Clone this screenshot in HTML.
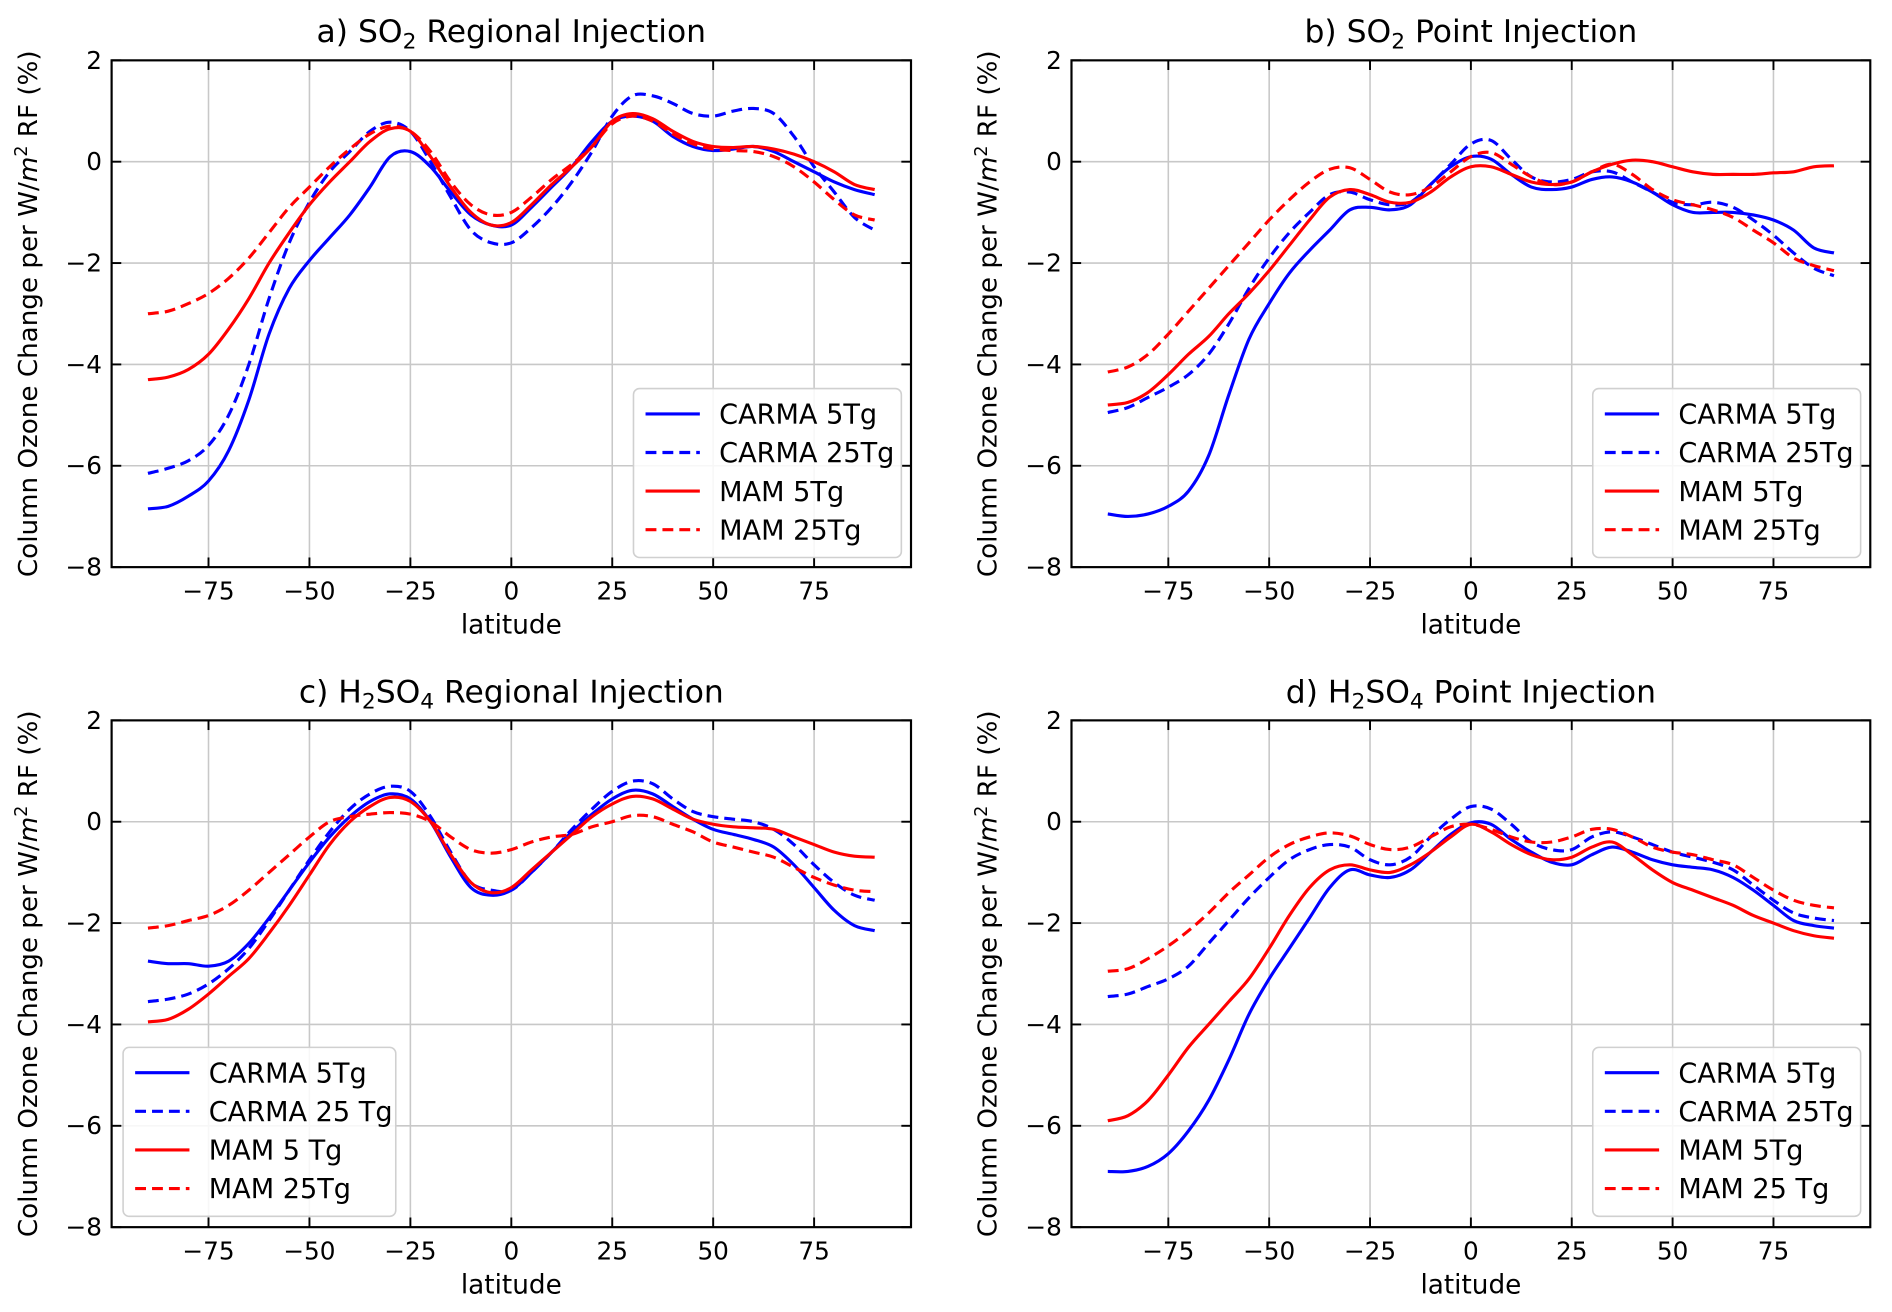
<!DOCTYPE html>
<html><head><meta charset="utf-8"><style>
html,body{margin:0;padding:0;background:#fff;}
svg{display:block;font-family:"DejaVu Sans","Liberation Sans",sans-serif;}
</style></head><body>
<svg id="fig" width="1892" height="1312" viewBox="0 0 1568 1087.3" xmlns="http://www.w3.org/2000/svg"></svg>
<script>
const lats = [-90,-85,-80,-75,-70,-65,-60,-55,-50,-45,-40,-35,-30,-25,-20,-15,-10,-5,0,5,10,15,20,25,30,35,40,45,50,55,60,65,70,75,80,85,90];
const xTicks = [-75,-50,-25,0,25,50,75];
const yTicks = [2,0,-2,-4,-6,-8];
const aCarma5 = [-6.85,-6.8,-6.6,-6.3,-5.7,-4.7,-3.4,-2.5,-1.95,-1.5,-1.05,-0.5,0.1,0.2,-0.1,-0.6,-1.05,-1.25,-1.25,-0.9,-0.5,-0.1,0.4,0.8,0.9,0.8,0.5,0.3,0.22,0.25,0.3,0.2,0.0,-0.2,-0.4,-0.55,-0.65];
const aCarma25 = [-6.15,-6.05,-5.9,-5.6,-5.0,-4.0,-2.7,-1.6,-0.8,-0.2,0.2,0.6,0.78,0.6,0.0,-0.7,-1.35,-1.6,-1.6,-1.3,-0.9,-0.4,0.2,0.9,1.3,1.3,1.15,0.95,0.9,1.0,1.05,0.95,0.5,-0.1,-0.6,-1.1,-1.35];
const aMam5 = [-4.3,-4.25,-4.1,-3.8,-3.3,-2.7,-2.0,-1.4,-0.85,-0.4,0.0,0.4,0.65,0.6,0.1,-0.5,-1.0,-1.25,-1.2,-0.85,-0.45,-0.1,0.3,0.8,0.95,0.85,0.6,0.4,0.3,0.28,0.3,0.25,0.15,0.0,-0.2,-0.45,-0.55];
const aMam25 = [-3.0,-2.95,-2.8,-2.6,-2.3,-1.9,-1.4,-0.9,-0.5,-0.1,0.25,0.55,0.7,0.6,0.2,-0.4,-0.85,-1.05,-1.0,-0.7,-0.35,-0.05,0.3,0.75,0.9,0.8,0.55,0.35,0.25,0.22,0.2,0.1,-0.1,-0.4,-0.75,-1.05,-1.15];
const bCarma5 = [-6.95,-7.0,-6.95,-6.8,-6.5,-5.8,-4.6,-3.5,-2.8,-2.2,-1.75,-1.35,-0.95,-0.9,-0.95,-0.85,-0.45,-0.1,0.1,0.05,-0.25,-0.5,-0.55,-0.5,-0.35,-0.3,-0.4,-0.6,-0.85,-1.0,-1.0,-1.0,-1.05,-1.15,-1.35,-1.7,-1.8];
const bCarma25 = [-4.95,-4.85,-4.65,-4.45,-4.2,-3.8,-3.2,-2.5,-1.9,-1.4,-1.0,-0.65,-0.6,-0.75,-0.85,-0.8,-0.45,-0.05,0.35,0.42,0.05,-0.3,-0.4,-0.35,-0.2,-0.2,-0.4,-0.6,-0.8,-0.85,-0.8,-0.9,-1.15,-1.45,-1.8,-2.1,-2.25];
const bMam5 = [-4.8,-4.75,-4.55,-4.2,-3.8,-3.45,-3.0,-2.6,-2.15,-1.65,-1.15,-0.7,-0.55,-0.65,-0.8,-0.8,-0.6,-0.3,-0.1,-0.1,-0.25,-0.4,-0.45,-0.4,-0.2,-0.05,0.03,0.0,-0.1,-0.2,-0.25,-0.25,-0.25,-0.22,-0.2,-0.1,-0.08];
const bMam25 = [-4.15,-4.05,-3.8,-3.4,-2.95,-2.5,-2.05,-1.6,-1.15,-0.75,-0.4,-0.15,-0.12,-0.35,-0.6,-0.65,-0.5,-0.2,0.1,0.18,-0.05,-0.3,-0.45,-0.4,-0.2,-0.05,-0.25,-0.55,-0.75,-0.85,-0.95,-1.1,-1.35,-1.6,-1.9,-2.05,-2.15];
const cCarma5 = [-2.75,-2.8,-2.8,-2.85,-2.75,-2.4,-1.9,-1.35,-0.8,-0.3,0.1,0.4,0.55,0.45,0.0,-0.7,-1.3,-1.45,-1.35,-1.0,-0.6,-0.2,0.15,0.45,0.62,0.55,0.3,0.05,-0.15,-0.25,-0.35,-0.5,-0.85,-1.3,-1.75,-2.05,-2.15];
const cCarma25 = [-3.55,-3.5,-3.4,-3.2,-2.9,-2.5,-1.95,-1.35,-0.75,-0.2,0.25,0.55,0.7,0.6,0.1,-0.6,-1.2,-1.35,-1.35,-1.0,-0.6,-0.15,0.25,0.6,0.8,0.75,0.45,0.2,0.1,0.05,0.0,-0.15,-0.45,-0.85,-1.2,-1.45,-1.55];
const cMam5 = [-3.95,-3.9,-3.7,-3.4,-3.05,-2.7,-2.2,-1.65,-1.05,-0.45,0.0,0.3,0.48,0.4,0.0,-0.65,-1.2,-1.4,-1.3,-0.95,-0.6,-0.25,0.1,0.35,0.5,0.45,0.25,0.05,-0.05,-0.1,-0.12,-0.15,-0.3,-0.45,-0.6,-0.68,-0.7];
const cMam25 = [-2.1,-2.05,-1.95,-1.85,-1.65,-1.35,-1.0,-0.65,-0.3,0.0,0.1,0.15,0.18,0.15,0.0,-0.3,-0.55,-0.62,-0.55,-0.4,-0.3,-0.25,-0.1,0.0,0.12,0.1,-0.05,-0.2,-0.4,-0.5,-0.6,-0.7,-0.9,-1.1,-1.25,-1.35,-1.38];
const dCarma5 = [-6.9,-6.9,-6.8,-6.55,-6.1,-5.5,-4.7,-3.8,-3.1,-2.5,-1.9,-1.3,-0.95,-1.05,-1.1,-0.95,-0.6,-0.25,-0.02,-0.05,-0.35,-0.6,-0.8,-0.85,-0.65,-0.5,-0.6,-0.75,-0.85,-0.9,-0.95,-1.1,-1.35,-1.65,-1.95,-2.05,-2.1];
const dCarma25 = [-3.45,-3.4,-3.25,-3.1,-2.85,-2.4,-1.95,-1.5,-1.1,-0.75,-0.55,-0.45,-0.5,-0.75,-0.85,-0.7,-0.3,0.05,0.3,0.25,-0.05,-0.4,-0.55,-0.55,-0.3,-0.2,-0.3,-0.45,-0.6,-0.7,-0.8,-0.95,-1.25,-1.55,-1.8,-1.9,-1.95];
const dMam5 = [-5.9,-5.8,-5.5,-5.0,-4.45,-4.0,-3.55,-3.1,-2.5,-1.85,-1.3,-0.95,-0.85,-0.95,-1.0,-0.85,-0.6,-0.3,-0.05,-0.2,-0.45,-0.65,-0.75,-0.7,-0.5,-0.4,-0.65,-0.95,-1.2,-1.35,-1.5,-1.65,-1.85,-2.0,-2.15,-2.25,-2.3];
const dMam25 = [-2.95,-2.9,-2.7,-2.45,-2.15,-1.8,-1.4,-1.05,-0.7,-0.45,-0.3,-0.22,-0.28,-0.45,-0.55,-0.5,-0.3,-0.1,-0.05,-0.15,-0.3,-0.4,-0.4,-0.3,-0.15,-0.15,-0.3,-0.5,-0.6,-0.65,-0.75,-0.85,-1.1,-1.35,-1.55,-1.65,-1.7];

const NS = "http://www.w3.org/2000/svg";
const svg = document.getElementById('fig');
function mk(tag, attrs, parent){ const e=document.createElementNS(NS,tag); for(const k in attrs) e.setAttribute(k,attrs[k]); (parent||svg).appendChild(e); return e; }
const XMIN=-99, XMAX=99, YMIN=-8, YMAX=2;
function smooth(pts){
  let d=`M${pts[0][0]},${pts[0][1]}`;
  for(let i=0;i<pts.length-1;i++){
    const p0=pts[Math.max(0,i-1)],p1=pts[i],p2=pts[i+1],p3=pts[Math.min(pts.length-1,i+2)];
    const c1=[p1[0]+(p2[0]-p0[0])/6,p1[1]+(p2[1]-p0[1])/6];
    const c2=[p2[0]-(p3[0]-p1[0])/6,p2[1]-(p3[1]-p1[1])/6];
    d+=` C${c1[0].toFixed(2)},${c1[1].toFixed(2)} ${c2[0].toFixed(2)},${c2[1].toFixed(2)} ${p2[0].toFixed(2)},${p2[1].toFixed(2)}`;
  }
  return d;
}
const panels = [
  {id:'a', L:92.5, R:755, T:50, B:470, title:['a) SO','2',' Regional Injection'], series:[aCarma5,aCarma25,aMam5,aMam25], labels:['CARMA 5Tg','CARMA 25Tg','MAM 5Tg','MAM 25Tg'], leg:{x:525,y:322,w:222}},
  {id:'b', L:888, R:1550, T:50, B:470, title:['b) SO','2',' Point Injection'], series:[bCarma5,bCarma25,bMam5,bMam25], labels:['CARMA 5Tg','CARMA 25Tg','MAM 5Tg','MAM 25Tg'], leg:{x:1320,y:322,w:222}},
  {id:'c', L:92.5, R:755, T:597, B:1017, title:['c) H','2','SO','4',' Regional Injection'], series:[cCarma5,cCarma25,cMam5,cMam25], labels:['CARMA 5Tg','CARMA 25 Tg','MAM 5 Tg','MAM 25Tg'], leg:{x:102,y:868,w:226}},
  {id:'d', L:888, R:1550, T:597, B:1017, title:['d) H','2','SO','4',' Point Injection'], series:[dCarma5,dCarma25,dMam5,dMam25], labels:['CARMA 5Tg','CARMA 25Tg','MAM 5Tg','MAM 25 Tg'], leg:{x:1320,y:868,w:222}}
];
const styles=[{c:'#0000ff',d:null},{c:'#0000ff',d:'9,5'},{c:'#ff0000',d:null},{c:'#ff0000',d:'9,5'}];
panels.forEach(p=>{
  const g=mk('g',{});
  
  
  const sx=v=>p.L+(v-XMIN)/(XMAX-XMIN)*(p.R-p.L);
  const sy=v=>p.B-(v-YMIN)/(YMAX-YMIN)*(p.B-p.T);
  xTicks.forEach(t=>{
    const l=mk('line',{x1:sx(t),x2:sx(t),y1:p.T,y2:p.B,stroke:'#c8c8c8','stroke-width':1.3},g);
     
  });
  yTicks.forEach(t=>{
    const l=mk('line',{x1:p.L,x2:p.R,y1:sy(t),y2:sy(t),stroke:'#c8c8c8','stroke-width':1.3},g);
     
  });
  p.series.forEach((s,i)=>{
    const pts=lats.map((la,k)=>[sx(la),sy(s[k])]);
    const path=mk('path',{d:smooth(pts),fill:'none',stroke:styles[i].c,'stroke-width':2.6,'stroke-linejoin':'round'},g);
    if(styles[i].d) path.setAttribute('stroke-dasharray',styles[i].d);
    
    
  });
  const fr=mk('rect',{x:p.L,y:p.T,width:p.R-p.L,height:p.B-p.T,fill:'none',stroke:'#000','stroke-width':1.8},g);
   
  xTicks.forEach(t=>{
    mk('line',{x1:sx(t),x2:sx(t),y1:p.B,y2:p.B-8,stroke:'#000','stroke-width':1.6},g);
    mk('line',{x1:sx(t),x2:sx(t),y1:p.T,y2:p.T+8,stroke:'#000','stroke-width':1.6},g);
    const tx=mk('text',{x:sx(t),y:p.B+27,'font-size':20.5,'text-anchor':'middle',fill:'#000'},g);
    tx.textContent=(t<0?'\u2212'+(-t):String(t));
     
  });
  yTicks.forEach(t=>{
    mk('line',{x1:p.L,x2:p.L+8,y1:sy(t),y2:sy(t),stroke:'#000','stroke-width':1.6},g);
    mk('line',{x1:p.R,x2:p.R-8,y1:sy(t),y2:sy(t),stroke:'#000','stroke-width':1.6},g);
    const tx=mk('text',{x:p.L-8,y:sy(t)+7,'font-size':20.5,'text-anchor':'end',fill:'#000'},g);
    tx.textContent=(t<0?'\u2212'+(-t):String(t));
     
  });
  const cx=(p.L+p.R)/2;
  const ti=mk('text',{x:cx,y:p.T-15,'font-size':26,'text-anchor':'middle',fill:'#000'},g);
   
  p.title.forEach((part,i)=>{
    const ts=mk('tspan',{},ti);
    if(i%2===1){ts.setAttribute('font-size',18);ts.setAttribute('dy',5);} else if(i>0){ts.setAttribute('dy',-5);}
    ts.textContent=part;
  });
  const xl=mk('text',{x:cx,y:p.B+55,'font-size':21.8,'text-anchor':'middle',fill:'#000'},g);
  xl.textContent='latitude';
   
  const ylx=p.L-62, yly=(p.T+p.B)/2;
  const yl=mk('text',{x:ylx,y:yly,'font-size':21.7,'text-anchor':'middle',fill:'#000',transform:`rotate(-90 ${ylx} ${yly})`},g);
   
  const a1=mk('tspan',{},yl); a1.textContent='Column Ozone Change per W/';
  const a2=mk('tspan',{'font-style':'italic'},yl); a2.textContent='m';
  const a3=mk('tspan',{'font-size':14.5,dy:-8},yl); a3.textContent='2';
  const a4=mk('tspan',{dy:8},yl); a4.textContent=' RF (%)';
  const lg=mk('g',{},g);
   
  mk('rect',{x:p.leg.x,y:p.leg.y,width:p.leg.w,height:140,rx:5,fill:'#fff','fill-opacity':0.85,stroke:'#d0d0d0','stroke-width':1.3},lg);
  p.labels.forEach((lab,i)=>{
    const yy=p.leg.y+21+i*32;
    const ln=mk('line',{x1:p.leg.x+10,x2:p.leg.x+55,y1:yy,y2:yy,stroke:styles[i].c,'stroke-width':2.6},lg);
    if(styles[i].d) ln.setAttribute('stroke-dasharray','9,5');
    const t=mk('text',{x:p.leg.x+71,y:yy+8,'font-size':22.5,fill:'#000'},lg);
    t.textContent=lab;
     
  });
});
</script>
</body></html>
